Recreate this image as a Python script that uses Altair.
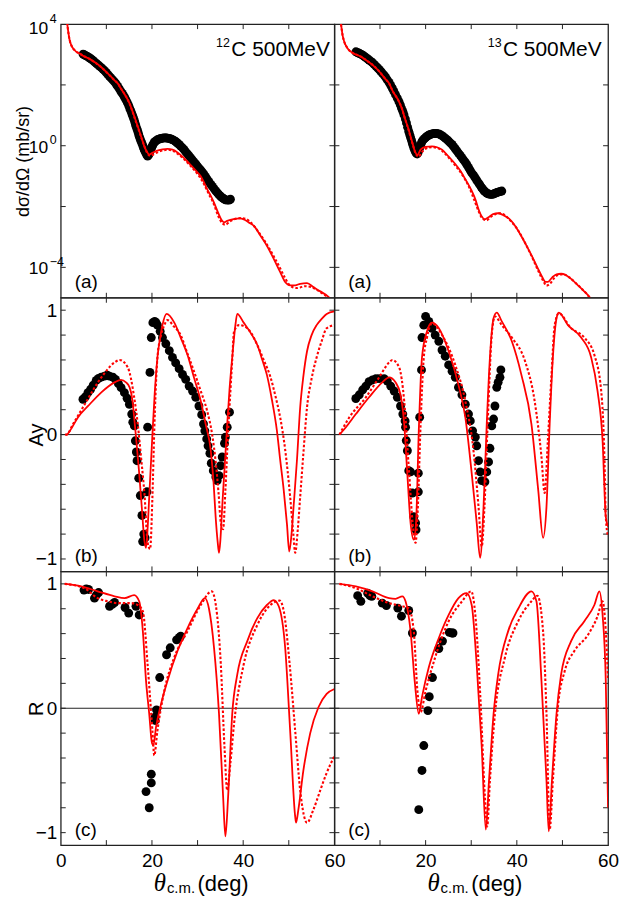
import altair as alt
import pandas as pd

FONT = "Liberation Sans"
RED = "#ff0000"
INK = "#222222"
W = 275
H = 275

# ---------------- data ----------------
# (a) cross sections, stored as log10(dσ/dΩ [mb/sr])
c12_xs_solid_x = [1.4, 1.6, 1.96, 2.33, 3.05, 4.15, 4.87, 6.0, 7.4, 8.9, 10.3, 11.8, 12.5, 13.2, 14.3, 15.05, 16.0, 16.87, 17.6, 18.33, 18.9, 19.4, 20.0, 21.0, 22.3, 23.4, 24.5, 25.6, 27.0, 28.5, 30.0, 30.7, 31.4, 32.1, 32.9, 33.6, 34.5, 35.3, 35.8, 36.5, 37.9, 39.4, 40.5, 41.5, 42.3, 43.8, 45.2, 46.7, 48.1, 49.2, 50.3, 51.4, 52.5, 54.0, 55.4, 56.9, 58.7, 59.2]
c12_xs_solid_y = [4.05, 3.8, 3.47, 3.3, 3.14, 3.03, 2.96, 2.88, 2.75, 2.58, 2.38, 2.15, 2.05, 1.88, 1.62, 1.4, 1.02, 0.64, 0.31, -0.02, -0.2, -0.29, -0.24, -0.17, -0.12, -0.1, -0.13, -0.22, -0.4, -0.64, -0.88, -1.0, -1.2, -1.43, -1.65, -1.87, -2.2, -2.45, -2.52, -2.47, -2.41, -2.39, -2.45, -2.55, -2.63, -2.96, -3.29, -3.72, -4.15, -4.48, -4.59, -4.59, -4.54, -4.52, -4.65, -4.79, -4.97, -5.05]
c12_xs_dash_x = [1.4, 1.6, 1.96, 2.33, 3.05, 4.15, 4.87, 6.0, 7.4, 8.9, 10.3, 11.8, 12.5, 13.2, 14.3, 15.05, 16.0, 16.87, 17.6, 18.3, 19.0, 19.7, 20.5, 21.5, 22.5, 23.5, 24.5, 25.6, 27.0, 28.5, 30.0, 31.4, 32.5, 33.6, 34.5, 35.5, 36.1, 37.0, 38.0, 39.5, 40.5, 41.5, 42.7, 43.8, 45.0, 46.0, 47.0, 48.0, 49.0, 50.0, 51.0, 51.7, 52.5, 53.5, 55.0, 56.0, 57.0, 58.0, 58.9]
c12_xs_dash_y = [4.05, 3.8, 3.47, 3.3, 3.14, 3.03, 2.96, 2.88, 2.75, 2.58, 2.38, 2.15, 2.05, 1.88, 1.62, 1.4, 1.0, 0.62, 0.3, 0.0, -0.25, -0.33, -0.27, -0.2, -0.15, -0.13, -0.16, -0.26, -0.44, -0.67, -0.93, -1.26, -1.6, -1.93, -2.3, -2.56, -2.6, -2.5, -2.42, -2.38, -2.4, -2.5, -2.7, -2.93, -3.2, -3.45, -3.72, -4.0, -4.3, -4.55, -4.66, -4.68, -4.66, -4.62, -4.65, -4.73, -4.82, -4.92, -5.02]
c12_xs_data_x = [4.9, 5.15, 5.4, 5.7, 6.0, 6.35, 6.7, 7.05, 7.4, 7.75, 8.1, 8.5, 8.9, 9.25, 9.6, 9.95, 10.3, 10.65, 11.0, 11.4, 11.8, 12.15, 12.5, 12.85, 13.2, 13.5, 13.8, 14.05, 14.3, 14.6, 14.9, 15.15, 15.4, 15.6, 15.8, 16.0, 16.2, 16.35, 16.5, 16.7, 16.9, 17.05, 17.2, 17.4, 17.6, 17.8, 18.0, 18.15, 18.3, 18.5, 18.7, 18.9, 19.05, 19.25, 19.4, 19.6, 19.8, 19.95, 20.1, 20.3, 20.5, 20.7, 20.9, 21.2, 21.5, 21.8, 22.05, 22.3, 22.6, 22.9, 23.15, 23.4, 23.7, 24.0, 24.25, 24.5, 24.8, 25.1, 25.35, 25.6, 25.95, 26.3, 26.7, 27.05, 27.4, 27.8, 28.15, 28.5, 28.85, 29.2, 29.6, 29.96, 30.3, 30.7, 31.05, 31.4, 31.75, 32.1, 32.5, 32.9, 33.25, 33.6, 33.95, 34.3, 34.6, 34.9, 35.15, 35.4, 35.6, 35.8, 36.1, 36.5, 36.9, 37.2]
c12_xs_data_y = [3.01, 2.99, 2.97, 2.945, 2.92, 2.885, 2.85, 2.81, 2.76, 2.715, 2.67, 2.62, 2.57, 2.52, 2.47, 2.41, 2.35, 2.29, 2.23, 2.165, 2.1, 2.03, 1.95, 1.87, 1.78, 1.72, 1.65, 1.58, 1.51, 1.42, 1.32, 1.22, 1.13, 1.05, 0.97, 0.89, 0.8, 0.72, 0.64, 0.555, 0.47, 0.39, 0.31, 0.23, 0.15, 0.075, 0.0, -0.065, -0.13, -0.19, -0.25, -0.31, -0.34, -0.31, -0.26, -0.18, -0.1, -0.05, 0.0, 0.06, 0.11, 0.14, 0.16, 0.2, 0.215, 0.23, 0.24, 0.25, 0.255, 0.26, 0.255, 0.25, 0.24, 0.23, 0.215, 0.2, 0.175, 0.15, 0.12, 0.09, 0.04, -0.01, -0.07, -0.13, -0.2, -0.27, -0.335, -0.4, -0.465, -0.53, -0.6, -0.67, -0.735, -0.8, -0.87, -0.94, -1.02, -1.1, -1.185, -1.27, -1.34, -1.41, -1.48, -1.54, -1.59, -1.64, -1.68, -1.71, -1.73, -1.75, -1.78, -1.79, -1.79, -1.76]

c13_xs_solid_x = [1.45, 1.8, 2.18, 2.9, 4.0, 4.72, 5.8, 6.9, 8.35, 9.8, 11.25, 12.0, 12.7, 14.16, 14.9, 15.25, 16.3, 16.7, 17.1, 17.7, 18.2, 18.9, 20.0, 21.4, 22.5, 23.6, 25.0, 26.5, 27.5, 28.7, 30.0, 31.0, 31.6, 32.2, 33.0, 33.8, 34.8, 35.9, 37.0, 38.3, 39.6, 40.9, 42.0, 43.2, 44.5, 45.5, 46.3, 46.8, 47.8, 48.7, 49.7, 50.7, 51.9, 53.4, 54.7, 55.9, 56.3]
c13_xs_solid_y = [4.0, 3.63, 3.41, 3.2, 3.05, 3.0, 2.93, 2.82, 2.66, 2.45, 2.18, 2.05, 1.82, 1.45, 1.18, 1.0, 0.52, 0.31, 0.1, -0.2, -0.3, -0.13, -0.04, -0.02, -0.05, -0.13, -0.35, -0.6, -0.8, -1.1, -1.45, -1.8, -2.09, -2.3, -2.42, -2.35, -2.25, -2.22, -2.28, -2.4, -2.63, -2.95, -3.25, -3.6, -4.0, -4.3, -4.48, -4.48, -4.32, -4.23, -4.21, -4.25, -4.38, -4.59, -4.78, -4.97, -5.05]
c13_xs_dash_x = [1.45, 1.8, 2.18, 2.9, 4.0, 4.72, 5.8, 6.9, 8.35, 9.8, 11.25, 12.0, 12.7, 14.16, 14.9, 15.25, 16.3, 16.7, 17.1, 17.8, 18.5, 19.0, 20.0, 21.4, 22.5, 23.6, 25.0, 26.5, 28.0, 29.5, 30.7, 31.6, 32.5, 33.4, 34.2, 35.3, 36.4, 37.5, 38.5, 40.0, 41.3, 42.5, 43.6, 44.8, 45.8, 46.5, 47.2, 48.2, 49.2, 50.2, 51.5, 52.8, 54.2, 55.5, 56.1]
c13_xs_dash_y = [4.0, 3.63, 3.41, 3.2, 3.05, 3.0, 2.93, 2.82, 2.66, 2.45, 2.18, 2.05, 1.82, 1.45, 1.18, 1.0, 0.5, 0.28, 0.08, -0.25, -0.36, -0.25, -0.1, -0.05, -0.07, -0.17, -0.38, -0.65, -0.95, -1.35, -1.8, -2.15, -2.4, -2.45, -2.35, -2.25, -2.22, -2.3, -2.45, -2.72, -3.05, -3.4, -3.75, -4.15, -4.45, -4.6, -4.55, -4.35, -4.24, -4.23, -4.33, -4.5, -4.7, -4.9, -5.02]
c13_xs_data_x = [4.72, 5.0, 5.3, 5.55, 5.81, 6.1, 6.35, 6.6, 6.9, 7.25, 7.6, 8.0, 8.35, 8.7, 9.1, 9.45, 9.8, 10.15, 10.5, 10.9, 11.25, 11.6, 12.0, 12.35, 12.7, 13.05, 13.4, 13.8, 14.16, 14.45, 14.7, 15.0, 15.25, 15.55, 15.8, 16.05, 16.3, 16.5, 16.7, 16.9, 17.07, 17.25, 17.4, 17.6, 17.8, 18.0, 18.16, 18.35, 18.5, 18.7, 18.9, 19.05, 19.24, 19.5, 19.8, 20.05, 20.3, 20.55, 20.85, 21.1, 21.4, 21.75, 22.1, 22.5, 22.9, 23.25, 23.6, 23.95, 24.3, 24.7, 25.05, 25.4, 25.8, 26.15, 26.5, 26.85, 27.2, 27.6, 27.95, 28.3, 28.7, 29.05, 29.4, 29.75, 30.1, 30.5, 30.85, 31.2, 31.6, 31.9, 32.2, 32.45, 32.7, 32.9, 33.1, 33.4, 33.7, 34.0, 34.25, 34.5, 34.75, 35.0, 35.3, 35.6, 35.9, 36.2, 36.45, 36.7]
c13_xs_data_y = [3.09, 3.07, 3.05, 3.03, 3.01, 2.985, 2.96, 2.93, 2.9, 2.86, 2.82, 2.775, 2.73, 2.675, 2.62, 2.565, 2.51, 2.45, 2.39, 2.32, 2.25, 2.165, 2.08, 1.985, 1.89, 1.785, 1.68, 1.565, 1.45, 1.345, 1.24, 1.13, 1.02, 0.885, 0.75, 0.61, 0.47, 0.37, 0.27, 0.18, 0.09, 0.01, -0.07, -0.14, -0.21, -0.25, -0.27, -0.22, -0.15, -0.07, 0.0, 0.08, 0.15, 0.2, 0.24, 0.28, 0.31, 0.335, 0.36, 0.375, 0.39, 0.4, 0.4, 0.4, 0.39, 0.36, 0.33, 0.29, 0.25, 0.2, 0.15, 0.095, 0.04, -0.03, -0.1, -0.17, -0.24, -0.315, -0.39, -0.465, -0.54, -0.625, -0.71, -0.8, -0.89, -0.97, -1.05, -1.135, -1.22, -1.29, -1.36, -1.41, -1.46, -1.49, -1.52, -1.56, -1.58, -1.59, -1.6, -1.6, -1.59, -1.58, -1.56, -1.54, -1.525, -1.51, -1.5, -1.49]

# (b) analysing power Ay
c12_ay_solid_x = [1.0, 1.3, 2.0, 3.8, 6.0, 8.9, 11.8, 13.2, 14.3, 15.1, 15.7, 16.1, 16.7, 17.2, 17.8, 18.3, 18.7, 19.1, 19.4, 20.1, 20.6, 21.2, 21.8, 22.3, 23.2, 24.9, 26.3, 27.8, 29.2, 30.7, 31.8, 32.9, 33.5, 33.96, 34.4, 34.7, 35.0, 35.4, 36.0, 36.5, 37.0, 37.6, 38.2, 38.7, 40.1, 41.6, 43.1, 44.2, 45.2, 46.3, 47.4, 48.1, 48.9, 49.6, 50.1, 50.6, 51.05, 51.8, 52.5, 53.2, 54.0, 55.0, 56.1, 57.2, 58.3, 60.0]
c12_ay_solid_y = [0.0, 0.0, 0.03, 0.14, 0.23, 0.34, 0.42, 0.44, 0.42, 0.38, 0.28, 0.14, -0.1, -0.31, -0.6, -0.84, -0.91, -0.72, -0.5, 0.0, 0.33, 0.62, 0.78, 0.88, 0.97, 0.9, 0.78, 0.64, 0.46, 0.27, 0.08, -0.13, -0.38, -0.66, -0.86, -0.95, -0.85, -0.58, -0.22, 0.085, 0.36, 0.62, 0.85, 0.97, 0.9, 0.82, 0.72, 0.6, 0.48, 0.28, 0.03, -0.2, -0.45, -0.72, -0.94, -0.8, -0.58, -0.2, 0.22, 0.47, 0.67, 0.8, 0.88, 0.93, 0.97, 0.99]
c12_ay_dash_x = [1.0, 1.3, 2.7, 5.2, 8.9, 11.8, 12.9, 14.7, 16.1, 16.9, 17.6, 18.4, 19.05, 19.6, 20.1, 20.5, 21.2, 22.0, 22.7, 23.4, 24.8, 26.3, 27.7, 29.2, 30.6, 32.1, 33.2, 34.0, 34.6, 35.1, 35.6, 36.1, 36.6, 37.2, 37.6, 38.0, 39.1, 40.9, 43.1, 44.5, 46.0, 47.0, 48.1, 49.2, 50.3, 51.0, 51.4, 52.0, 52.5, 53.2, 54.0, 55.0, 56.1, 57.2, 58.3, 60.0]
c12_ay_dash_y = [0.0, 0.0, 0.085, 0.24, 0.46, 0.58, 0.6, 0.54, 0.3, 0.08, -0.18, -0.5, -0.87, -0.92, -0.5, 0.03, 0.62, 0.8, 0.88, 0.92, 0.87, 0.8, 0.66, 0.51, 0.36, 0.19, 0.0, -0.23, -0.47, -0.71, -0.76, -0.45, -0.05, 0.35, 0.6, 0.83, 0.88, 0.855, 0.72, 0.6, 0.46, 0.32, 0.14, -0.12, -0.5, -0.8, -0.95, -0.75, -0.5, -0.15, 0.22, 0.45, 0.62, 0.75, 0.855, 0.88]
c12_ay_data_x = [4.87, 5.38, 5.96, 6.55, 7.13, 7.78, 8.29, 8.87, 9.6, 10.18, 10.69, 11.42, 12.0, 12.65, 13.24, 13.96, 14.55, 15.05, 15.56, 15.8, 16.15, 16.36, 16.58, 16.73, 17.1, 17.45, 17.8, 17.96, 18.2, 18.5, 18.9, 19.05, 19.56, 19.85, 20.2, 20.6, 20.9, 21.2, 21.8, 22.3, 23.05, 23.8, 24.5, 25.2, 25.96, 26.7, 27.4, 28.15, 28.9, 29.6, 30.3, 30.9, 31.3, 31.6, 32.0, 32.3, 32.7, 33.0, 33.45, 34.0, 34.3, 34.7, 35.05, 35.4, 35.9, 36.1, 36.5, 37.0]
c12_ay_data_y = [0.284, 0.303, 0.337, 0.364, 0.398, 0.436, 0.452, 0.462, 0.47, 0.478, 0.47, 0.462, 0.444, 0.409, 0.377, 0.337, 0.292, 0.244, 0.165, 0.1, 0.07, -0.05, -0.14, -0.21, -0.35, -0.49, -0.65, -0.86, -0.8, -0.83, -0.46, 0.06, 0.5, 0.78, 0.9, 0.91, 0.9, 0.88, 0.83, 0.78, 0.73, 0.675, 0.62, 0.576, 0.53, 0.483, 0.444, 0.39, 0.35, 0.3, 0.23, 0.16, 0.085, 0.03, -0.035, -0.09, -0.15, -0.23, -0.29, -0.34, -0.37, -0.33, -0.25, -0.18, -0.07, -0.02, 0.06, 0.18]

c13_ay_solid_x = [1.1, 2.2, 4.7, 7.6, 10.5, 12.0, 13.4, 14.5, 15.3, 15.98, 16.7, 17.4, 17.9, 18.5, 19.2, 20.3, 21.4, 22.9, 25.05, 27.2, 28.7, 30.1, 31.2, 31.95, 32.7, 33.4, 34.1, 34.9, 35.6, 36.7, 38.9, 41.0, 43.2, 44.7, 45.75, 46.5, 47.2, 47.9, 48.7, 49.2, 51.2, 54.1, 56.3, 57.7, 58.8, 59.5, 60.0]
c13_ay_solid_y = [0.0, 0.045, 0.165, 0.3, 0.42, 0.46, 0.42, 0.32, 0.085, -0.31, -0.71, -0.845, -0.71, 0.03, 0.62, 0.83, 0.9, 0.855, 0.67, 0.4, 0.14, -0.31, -0.71, -0.99, -0.58, 0.085, 0.62, 0.935, 0.98, 0.91, 0.75, 0.48, 0.085, -0.45, -0.83, -0.58, 0.085, 0.62, 0.935, 0.98, 0.88, 0.78, 0.62, 0.35, -0.05, -0.66, -0.74]
c13_ay_dash_x = [1.1, 3.3, 6.9, 9.8, 12.0, 12.7, 14.2, 15.3, 16.3, 17.3, 17.8, 18.3, 18.9, 19.6, 20.3, 21.4, 23.6, 26.5, 28.7, 30.5, 31.6, 32.3, 32.9, 33.6, 34.5, 35.2, 36.7, 38.9, 41.8, 43.9, 45.4, 46.1, 46.8, 47.6, 48.3, 49.2, 51.9, 54.8, 57.0, 58.5, 59.2, 59.5, 60.0]
c13_ay_dash_y = [0.0, 0.14, 0.3, 0.46, 0.58, 0.6, 0.54, 0.27, -0.26, -0.765, -0.87, -0.58, 0.085, 0.62, 0.78, 0.895, 0.8, 0.56, 0.27, -0.13, -0.58, -0.9, -0.58, 0.085, 0.8, 0.95, 0.88, 0.78, 0.59, 0.27, -0.18, -0.47, -0.05, 0.48, 0.88, 0.975, 0.855, 0.78, 0.64, 0.35, -0.18, -0.66, -0.82]
c13_ay_data_x = [4.7, 5.45, 6.2, 6.9, 7.6, 8.35, 9.1, 9.8, 10.9, 11.6, 12.35, 13.1, 13.8, 14.5, 15.0, 15.5, 15.6, 15.76, 16.0, 16.3, 16.7, 17.1, 17.4, 17.8, 17.9, 18.4, 18.4, 18.7, 19.1, 19.2, 19.6, 20.0, 20.7, 21.4, 22.1, 22.9, 23.6, 24.3, 25.05, 25.8, 26.5, 27.2, 27.96, 28.7, 29.4, 29.8, 30.3, 30.9, 31.2, 31.6, 31.95, 32.3, 33.0, 33.4, 33.8, 34.1, 34.5, 34.9, 35.2, 35.6, 35.9, 36.3, 36.5]
c13_ay_data_y = [0.29, 0.32, 0.36, 0.39, 0.425, 0.44, 0.45, 0.45, 0.45, 0.43, 0.39, 0.35, 0.3, 0.23, 0.165, 0.11, 0.06, -0.048, -0.13, -0.29, -0.3, -0.47, -0.66, -0.71, -0.765, -0.31, -0.46, 0.14, 0.52, 0.78, 0.88, 0.95, 0.91, 0.855, 0.8, 0.75, 0.68, 0.63, 0.56, 0.51, 0.46, 0.38, 0.32, 0.244, 0.165, 0.11, 0.03, -0.02, -0.09, -0.21, -0.3, -0.37, -0.38, -0.3, -0.22, -0.11, 0.07, 0.125, 0.23, 0.38, 0.42, 0.46, 0.52]

# (c) R
c12_r_solid_x = [0.87, 4.5, 8.1, 11.8, 14.0, 16.1, 17.2, 18.0, 18.7, 19.4, 20.0, 20.3, 20.9, 22.0, 23.4, 25.6, 27.8, 30.0, 31.6, 32.5, 33.6, 34.7, 35.6, 36.1, 36.7, 37.6, 38.7, 40.9, 43.1, 45.2, 46.7, 47.8, 49.2, 50.3, 51.4, 51.6, 52.1, 53.2, 54.7, 56.5, 58.3, 60.0]
c12_r_solid_y = [1.0, 0.98, 0.94, 0.9, 0.885, 0.91, 0.86, 0.62, 0.22, -0.045, -0.28, -0.3, -0.15, 0.035, 0.22, 0.46, 0.645, 0.8, 0.885, 0.8, 0.49, -0.045, -0.71, -1.03, -0.71, -0.045, 0.27, 0.54, 0.725, 0.83, 0.87, 0.82, 0.49, -0.18, -0.87, -0.92, -0.815, -0.5, -0.2, 0.008, 0.115, 0.155]
c12_r_dash_x = [0.87, 5.2, 8.1, 10.3, 12.5, 15.4, 16.9, 18.0, 19.05, 20.1, 20.5, 21.2, 22.7, 24.9, 27.8, 30.7, 33.1, 34.0, 35.1, 35.9, 36.5, 37.2, 38.0, 40.1, 43.1, 45.2, 48.0, 48.9, 50.2, 51.4, 52.5, 54.0, 55.4, 56.9, 58.3, 60.0]
c12_r_dash_y = [1.0, 0.965, 0.885, 0.86, 0.845, 0.845, 0.83, 0.78, 0.35, -0.18, -0.38, -0.18, 0.14, 0.41, 0.62, 0.83, 0.94, 0.83, 0.35, -0.31, -0.66, -0.44, -0.125, 0.35, 0.67, 0.8, 0.865, 0.78, 0.35, -0.18, -0.66, -0.92, -0.815, -0.66, -0.52, -0.385]
c12_r_data_x = [5.1, 5.6, 6.1, 7.4, 7.8, 8.3, 10.7, 11.3, 11.8, 14.1, 14.9, 16.5, 17.2, 18.7, 19.4, 19.85, 19.85, 20.65, 20.7, 21.0, 21.7, 23.2, 24.0, 25.4, 26.0, 26.3]
c12_r_data_y = [0.95, 0.96, 0.955, 0.885, 0.91, 0.93, 0.82, 0.835, 0.85, 0.81, 0.765, 0.82, 0.75, -0.67, -0.8, -0.6, -0.53, -0.072, -0.098, -0.013, 0.247, 0.43, 0.486, 0.55, 0.57, 0.58]

c13_r_solid_x = [1.1, 4.7, 8.35, 12.0, 13.4, 14.9, 15.6, 16.7, 17.6, 18.5, 19.2, 20.7, 22.9, 25.05, 27.2, 29.0, 30.1, 31.2, 32.3, 33.2, 33.9, 34.9, 35.9, 38.1, 40.3, 43.2, 44.3, 45.4, 46.5, 47.0, 47.7, 48.7, 49.7, 51.9, 54.8, 57.0, 58.1, 58.8, 59.5, 60.0]
c13_r_solid_y = [1.0, 0.98, 0.94, 0.885, 0.88, 0.9, 0.86, 0.62, 0.22, -0.045, 0.09, 0.33, 0.565, 0.75, 0.885, 0.925, 0.83, 0.35, -0.31, -0.975, -0.58, -0.045, 0.27, 0.62, 0.8, 0.94, 0.86, 0.22, -0.58, -0.99, -0.58, -0.045, 0.27, 0.54, 0.7, 0.83, 0.94, 0.75, 0.22, -0.8]
c13_r_dash_x = [1.1, 4.7, 8.35, 12.0, 14.9, 16.3, 17.4, 18.2, 18.9, 20.0, 22.1, 25.05, 28.0, 30.0, 30.9, 32.0, 33.0, 33.5, 34.1, 35.2, 37.4, 40.3, 43.2, 44.5, 45.75, 46.5, 47.2, 47.9, 49.0, 50.5, 52.6, 55.6, 57.7, 58.8, 59.5, 60.0]
c13_r_dash_y = [1.0, 0.965, 0.9, 0.845, 0.82, 0.805, 0.62, 0.14, -0.03, 0.14, 0.41, 0.7, 0.86, 0.94, 0.75, 0.09, -0.71, -0.95, -0.58, -0.045, 0.41, 0.7, 0.86, 0.905, 0.62, -0.045, -0.975, -0.58, 0.008, 0.3, 0.46, 0.59, 0.74, 0.86, 0.62, 0.235]
c13_r_data_x = [5.1, 5.8, 7.3, 7.8, 8.2, 10.5, 11.4, 13.9, 14.7, 16.3, 17.1, 18.5, 19.2, 19.6, 20.5, 20.8, 21.5, 22.9, 23.7, 25.2, 25.8, 26.0]
c13_r_data_y = [0.905, 0.86, 0.925, 0.905, 0.9, 0.845, 0.826, 0.805, 0.74, 0.786, 0.605, -0.815, -0.5, -0.3, -0.019, 0.093, 0.247, 0.48, 0.54, 0.61, 0.605, 0.605]

# axis ticks / labels
x_ticks = [10, 20, 30, 40, 50]
x_labels_left = [0, 20, 40, 60]
x_labels_right = [20, 40, 60]
lin_ticks = [-1.0, -0.8, -0.6, -0.4, -0.2, 0.0, 0.2, 0.4, 0.6, 0.8, 1.0]
lin_labels = [-1, 0, 1]
log_ticks = [1e-4, 1e-2, 1.0, 1e2]
log_label_values = [1.0, 1e-4]
log_label_exps = ["0", "\u22124"]
log_top_value = [1e4]
log_top_exp = ["4"]


def df(x, y, log=False):
    return pd.DataFrame({"x": x, "y": [10 ** v for v in y] if log else y})


def panel(kind, solid, dashed, data, letter, left, bottom, nucleus=None, title_right=5):
    xscale = alt.Scale(domain=[0, 60], nice=False, zero=False)
    if kind == "log":
        yscale = alt.Scale(type="log", domain=[1e-5, 1e4], nice=False)
        yt = log_ticks
    else:
        yscale = alt.Scale(domain=[-1.1, 1.1], nice=False, zero=False)
        yt = lin_ticks
    if bottom:
        xaxis = alt.Axis(values=(x_labels_left if left else x_labels_right), title=None,
                         ticks=False, tickSize=0, domain=False, grid=False, labelFontSize=19,
                         labelFont=FONT, labelColor="#000", labelPadding=7, labelFlush=False,
                         labelOverlap=False, format="d")
    else:
        xaxis = None
    if left:
        common = dict(titleY=H / 2, titleAngle=270, titleAlign="center",
                      titleBaseline="alphabetic", titleFont=FONT, titleFontWeight="normal",
                      titleColor="#000", domain=False, grid=False, ticks=False, tickSize=0)
        if kind == "log":
            yaxis = alt.Axis(labels=False, title="d\u03c3/d\u03a9 (mb/sr)", titleX=-32.6,
                             titleFontSize=18, **common)
        else:
            yaxis = alt.Axis(values=lin_labels, labelExpr="datum.value < 0 ? '\u22121' : datum.label",
                             labelFontSize=19, labelFont=FONT, labelColor="#000", labelPadding=4,
                             title=("Ay" if kind == "ay" else "R"), titleX=-18.5,
                             titleFontSize=20, **common)
    else:
        yaxis = None

    def X(f="x"):
        return alt.X(f"{f}:Q", scale=xscale, axis=xaxis)

    def Y(f="y"):
        return alt.Y(f"{f}:Q", scale=yscale, axis=yaxis)

    islog = kind == "log"
    layers = []
    if not islog:
        layers.append(alt.Chart(pd.DataFrame({"y": [0.0]})).mark_rule(color=INK, strokeWidth=1)
                      .encode(y=Y()))
    xt = pd.DataFrame({"x": x_ticks})
    ytd = pd.DataFrame({"y": yt})
    tk = dict(color=INK, strokeWidth=1)
    layers += [
        alt.Chart(xt).mark_rule(**tk).encode(x=X(), y=alt.value(0), y2=alt.value(5)),
        alt.Chart(xt).mark_rule(**tk).encode(x=X(), y=alt.value(H), y2=alt.value(H - 5)),
        alt.Chart(ytd).mark_rule(**tk).encode(y=Y(), x=alt.value(0), x2=alt.value(5)),
        alt.Chart(ytd).mark_rule(**tk).encode(y=Y(), x=alt.value(W), x2=alt.value(W - 5)),
    ]
    layers.append(alt.Chart(df(*data, log=islog)).mark_circle(size=80, color="#000", opacity=1)
                  .encode(x=X(), y=Y()))
    layers.append(alt.Chart(df(*dashed, log=islog)).mark_line(color=RED, strokeWidth=2.1,
                                                               strokeDash=[2.5, 2], clip=True,
                                                               interpolate="monotone")
                  .encode(x=X(), y=Y()))
    layers.append(alt.Chart(df(*solid, log=islog)).mark_line(color=RED, strokeWidth=1.8, clip=True,
                                                              interpolate="monotone")
                  .encode(x=X(), y=Y()))
    one = pd.DataFrame({"k": [0]})
    layers.append(alt.Chart(one).mark_text(text=letter, font=FONT, fontSize=19, align="left",
                                           baseline="alphabetic", color="#000")
                  .encode(x=alt.value(14), y=alt.value(H - 9.5)))
    if nucleus is not None:
        sup, main = nucleus
        layers.append(alt.Chart(one).mark_text(text=main, font=FONT, fontSize=21, align="right",
                                               baseline="alphabetic", color="#000")
                      .encode(x=alt.value(W - title_right), y=alt.value(32)))
        layers.append(alt.Chart(one).mark_text(text=sup, font=FONT, fontSize=12.5, align="right",
                                               baseline="alphabetic", color="#000")
                      .encode(x=alt.value(W - title_right - 100.5), y=alt.value(23)))
    if islog and left:
        lab = pd.DataFrame({"y": log_label_values, "e": log_label_exps})
        top = pd.DataFrame({"y": log_top_value, "e": log_top_exp})
        for d, dy_main, dy_sup in ((lab, 7, -1.3), (top, 10.3, -1.5)):
            layers.append(alt.Chart(d).mark_text(text="10", font=FONT, fontSize=17.5, align="right",
                                                 baseline="alphabetic", dy=dy_main, color="#000")
                          .encode(y=Y(), x=alt.value(-12.6)))
            layers.append(alt.Chart(d).mark_text(font=FONT, fontSize=12.5, align="left",
                                                 baseline="alphabetic", dy=dy_sup, color="#000")
                          .encode(y=Y(), x=alt.value(-11), text="e:N"))
    if bottom:
        layers.append(alt.Chart(one).mark_text(text="\u03b8", font="Liberation Serif", fontSize=25,
                                               fontStyle="italic", align="left",
                                               baseline="alphabetic", color="#000")
                      .encode(x=alt.value(93.5), y=alt.value(H + 46)))
        layers.append(alt.Chart(one).mark_text(text="c.m.", font=FONT, fontSize=15, align="left",
                                               baseline="alphabetic", color="#000")
                      .encode(x=alt.value(106.7), y=alt.value(H + 48)))
        layers.append(alt.Chart(one).mark_text(text="(deg)", font=FONT, fontSize=22, align="left",
                                               baseline="alphabetic", color="#000")
                      .encode(x=alt.value(137.5), y=alt.value(H + 46)))
    return alt.layer(*layers).properties(width=W, height=H)


panels = [
    panel("log", (c12_xs_solid_x, c12_xs_solid_y), (c12_xs_dash_x, c12_xs_dash_y),
          (c12_xs_data_x, c12_xs_data_y), "(a)", True, False, ("12", "C 500MeV"), 4.5),
    panel("log", (c13_xs_solid_x, c13_xs_solid_y), (c13_xs_dash_x, c13_xs_dash_y),
          (c13_xs_data_x, c13_xs_data_y), "(a)", False, False, ("13", "C 500MeV"), 6.5),
    panel("ay", (c12_ay_solid_x, c12_ay_solid_y), (c12_ay_dash_x, c12_ay_dash_y),
          (c12_ay_data_x, c12_ay_data_y), "(b)", True, False),
    panel("ay", (c13_ay_solid_x, c13_ay_solid_y), (c13_ay_dash_x, c13_ay_dash_y),
          (c13_ay_data_x, c13_ay_data_y), "(b)", False, False),
    panel("r", (c12_r_solid_x, c12_r_solid_y), (c12_r_dash_x, c12_r_dash_y),
          (c12_r_data_x, c12_r_data_y), "(c)", True, True),
    panel("r", (c13_r_solid_x, c13_r_solid_y), (c13_r_dash_x, c13_r_dash_y),
          (c13_r_data_x, c13_r_data_y), "(c)", False, True),
]

chart = (
    alt.concat(*panels, columns=2, spacing=0, bounds="flush")
    .properties(padding={"left": 5, "top": 1, "right": 0, "bottom": 0}, background="white")
    .configure_view(stroke=INK, strokeWidth=1.3)
)

chart.save("out.html", embed_options={"renderer": "svg", "actions": False})
